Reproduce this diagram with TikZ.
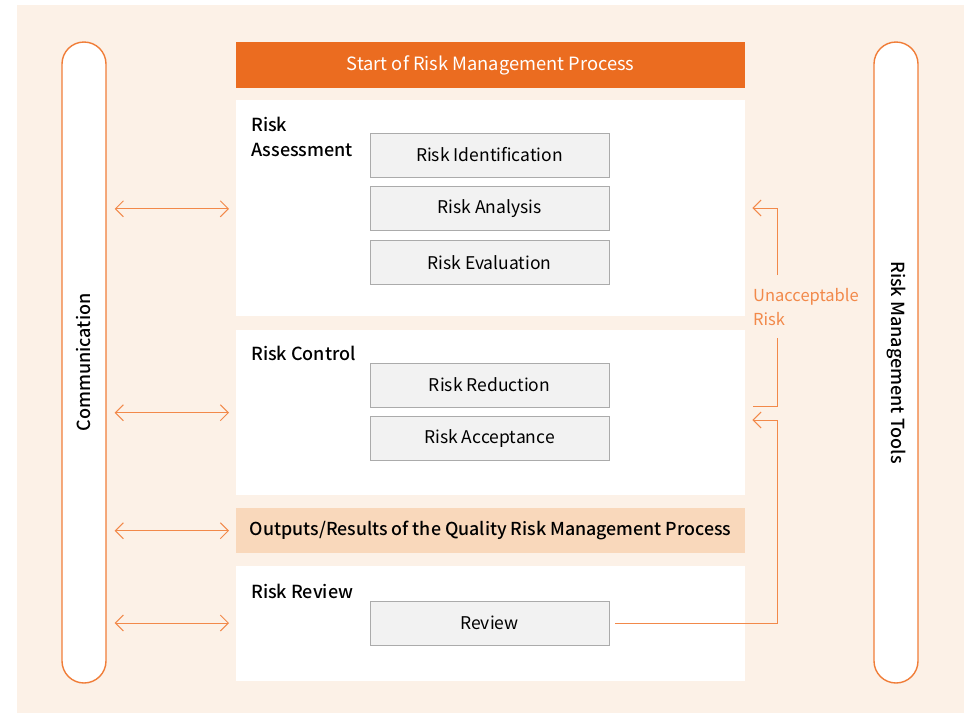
\documentclass[tikz,border=0pt]{standalone}
\usepackage{fontspec}
\setmainfont{Noto Sans CJK KR}[BoldFont={Noto Sans CJK KR Medium}]
\usetikzlibrary{arrows.meta,positioning}

\definecolor{bgbeige}{HTML}{FCF1E7}
\definecolor{hdrorange}{HTML}{EB6C20}
\definecolor{pillorange}{HTML}{F07D38}
\definecolor{arrorange}{HTML}{F2894A}
\definecolor{outfill}{HTML}{F9D8BB}
\definecolor{boxfill}{HTML}{F2F2F2}
\definecolor{boxgray}{HTML}{ABABAB}

\begin{document}
\begin{tikzpicture}[x=1pt, y=-1pt,
  panel/.style={rectangle, fill=white, anchor=north west, minimum width=509pt, inner sep=0pt},
  subbox/.style={rectangle, draw=boxgray, fill=boxfill, line width=0.8pt, minimum width=239pt,
                 minimum height=44pt, inner sep=0pt, font=\fontsize{17.5}{21}\selectfont},
  pill/.style={rectangle, rounded corners=22pt, draw=pillorange, fill=white, line width=1.4pt,
               minimum width=44pt, minimum height=641pt},
  sectlabel/.style={anchor=north west, align=left, inner sep=0pt, font=\bfseries\fontsize{18}{25}\selectfont},
  dblarr/.style={{Straight Barb[length=8pt,width=16pt]}-{Straight Barb[length=8pt,width=16pt]},
                 draw=arrorange, line width=1pt},
  fbarr/.style={-{Straight Barb[length=8pt,width=16pt]}, draw=arrorange, line width=1pt},
  fbline/.style={draw=arrorange, line width=1pt}
]
\useasboundingbox (0,0) rectangle (964,713);
\fill[bgbeige] (17,5) rectangle (964,713);

% side bars
\node[pill] (comm) at (84,362.5) {};
\node[rotate=90, font=\bfseries\fontsize{18}{21}\selectfont] (commtext) at (comm.center) {Communication};
\node[pill] (tools) at (896,362.5) {};
\node[rotate=-90, font=\bfseries\fontsize{18}{21}\selectfont] (toolstext) at (tools.center) {Risk Management Tools};

% main column
\node[rectangle, fill=hdrorange, text=white, minimum width=509pt, minimum height=46pt, inner sep=0pt,
      font=\fontsize{18.3}{21}\selectfont] (start) at (490.5,65) {Start of Risk Management Process};
\node[panel, minimum height=216pt] (assess) at (236,100) {};
\node[panel, minimum height=165pt] (control) at (236,330) {};
\node[panel, fill=outfill, minimum height=45pt, font=\bfseries\fontsize{17.8}{21}\selectfont] (outputs) at (236,508)
     {Outputs/Results of the Quality Risk Management Process};
\node[panel, minimum height=115pt] (review) at (236,566) {};

\node[sectlabel] (assesslbl) at (251,117) {Risk\\Assessment};
\node[sectlabel] (controllbl) at (251,346) {Risk Control};
\node[sectlabel] (reviewlbl) at (251,584) {Risk Review};

\node[subbox] (ident) at (489.5,155) {Risk Identification};
\node[subbox, below=9pt of ident] (anal) {Risk Analysis};
\node[subbox, below=9pt of anal] (evalu) {Risk Evaluation};
\node[subbox] (reduct) at (489.5,385) {Risk Reduction};
\node[subbox, below=9pt of reduct] (accept) {Risk Acceptance};
\node[subbox] (rev) at (489.5,623) {Review};

% communication arrows
\draw[dblarr, shorten <=8pt, shorten >=7pt] (comm.east |- anal) -- (assess.west |- anal);
\draw[dblarr, shorten <=8pt, shorten >=7pt] (comm.east |- control) -- (control.west);
\draw[dblarr, shorten <=8pt, shorten >=7pt] (comm.east |- outputs) -- (outputs.west);
\draw[dblarr, shorten <=8pt, shorten >=7pt] (comm.east |- rev) -- (review.west |- rev);

% feedback loop
\node[anchor=west, align=left, inner sep=0pt, text=arrorange, font=\fontsize{16.5}{24}\selectfont]
     (unacc) at (753,307) {Unacceptable\\Risk};
\coordinate (fbback) at (777,420);
\coordinate (urlow) at (777,406);
\coordinate (urgap1) at (777,338);
\coordinate (urgap2) at (777,275);
\coordinate (urtop) at (777,208);
\draw[fbarr, shorten <=6pt, shorten >=7pt] (rev.east) -| (fbback) -- (control.east |- fbback);
\draw[fbline, shorten <=8pt] (control.east |- urlow) -- (urlow) -- (urgap1);
\draw[fbarr, shorten >=7pt] (urgap2) -- (urtop) -- (assess.east |- urtop);
\end{tikzpicture}
\end{document}
